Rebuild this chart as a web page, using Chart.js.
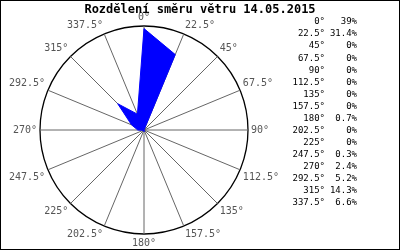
<!DOCTYPE html>
<html>
<head>
<meta charset="utf-8">
<script src="https://cdn.jsdelivr.net/npm/chart.js@4"></script>
<style>
  body { margin: 0; background: #fff; }
  #windChart { display: block; }
</style>
</head>
<body>
<canvas id="windChart" width="400" height="250"></canvas>
<script>
const chartTitle = 'Rozdělení směru větru 14.05.2015';
const directions = ['0°', '22.5°', '45°', '67.5°', '90°', '112.5°', '135°', '157.5°',
  '180°', '202.5°', '225°', '247.5°', '270°', '292.5°', '315°', '337.5°'];
const frequencies = [39, 31.4, 0, 0, 0, 0, 0, 0, 0.7, 0, 0, 0.3, 2.4, 5.2, 14.3, 6.6];
const scaleMax = 40;

document.addEventListener('DOMContentLoaded', () => {
  const canvas = document.getElementById('windChart');

  // title, frame and the value table on the right
  const extras = {
    id: 'extras',
    beforeDraw(chart) {
      const ctx = chart.ctx;
      ctx.save();
      ctx.fillStyle = '#fff';
      ctx.fillRect(0, 0, chart.width, chart.height);
      ctx.restore();
    },
    afterDraw(chart) {
      const ctx = chart.ctx;
      ctx.save();
      ctx.strokeStyle = '#000';
      ctx.lineWidth = 1;
      ctx.strokeRect(0.5, 0.5, chart.width - 1, chart.height - 1);

      ctx.fillStyle = '#000';
      ctx.font = 'bold 12px "DejaVu Sans Mono"';
      ctx.textAlign = 'center';
      ctx.textBaseline = 'middle';
      ctx.fillText(chartTitle, 200, 10);

      ctx.font = '9px "DejaVu Sans Mono"';
      directions.forEach((dir, i) => {
        const y = 22 + i * 12.07;
        ctx.textAlign = 'right';
        ctx.fillText(dir, 325, y);
        ctx.fillText(frequencies[i] + '%', 357, y);
      });
      ctx.restore();
    }
  };

  new Chart(canvas.getContext('2d'), {
    type: 'radar',
    data: {
      labels: directions,
      datasets: [{
        data: frequencies,
        backgroundColor: '#0000ff',
        borderColor: '#0000ff',
        borderWidth: 1,
        pointRadius: 0,
        fill: true,
      }],
    },
    options: {
      responsive: false,
      animation: false,
      layout: { padding: { left: 7, right: 117, top: 11, bottom: 1 } },
      plugins: {
        legend: { display: false },
        tooltip: { enabled: false },
      },
      scales: {
        r: {
          min: 0,
          max: scaleMax,
          ticks: { display: false, stepSize: scaleMax },
          grid: { circular: true, color: '#000', lineWidth: 1.3 },
          angleLines: { color: '#666', lineWidth: 1 },
          pointLabels: {
            color: '#555',
            padding: 3,
            font: { family: 'DejaVu Sans Mono', size: 10 },
          },
        },
      },
    },
    plugins: [extras],
  });
});
</script>
</body>
</html>
